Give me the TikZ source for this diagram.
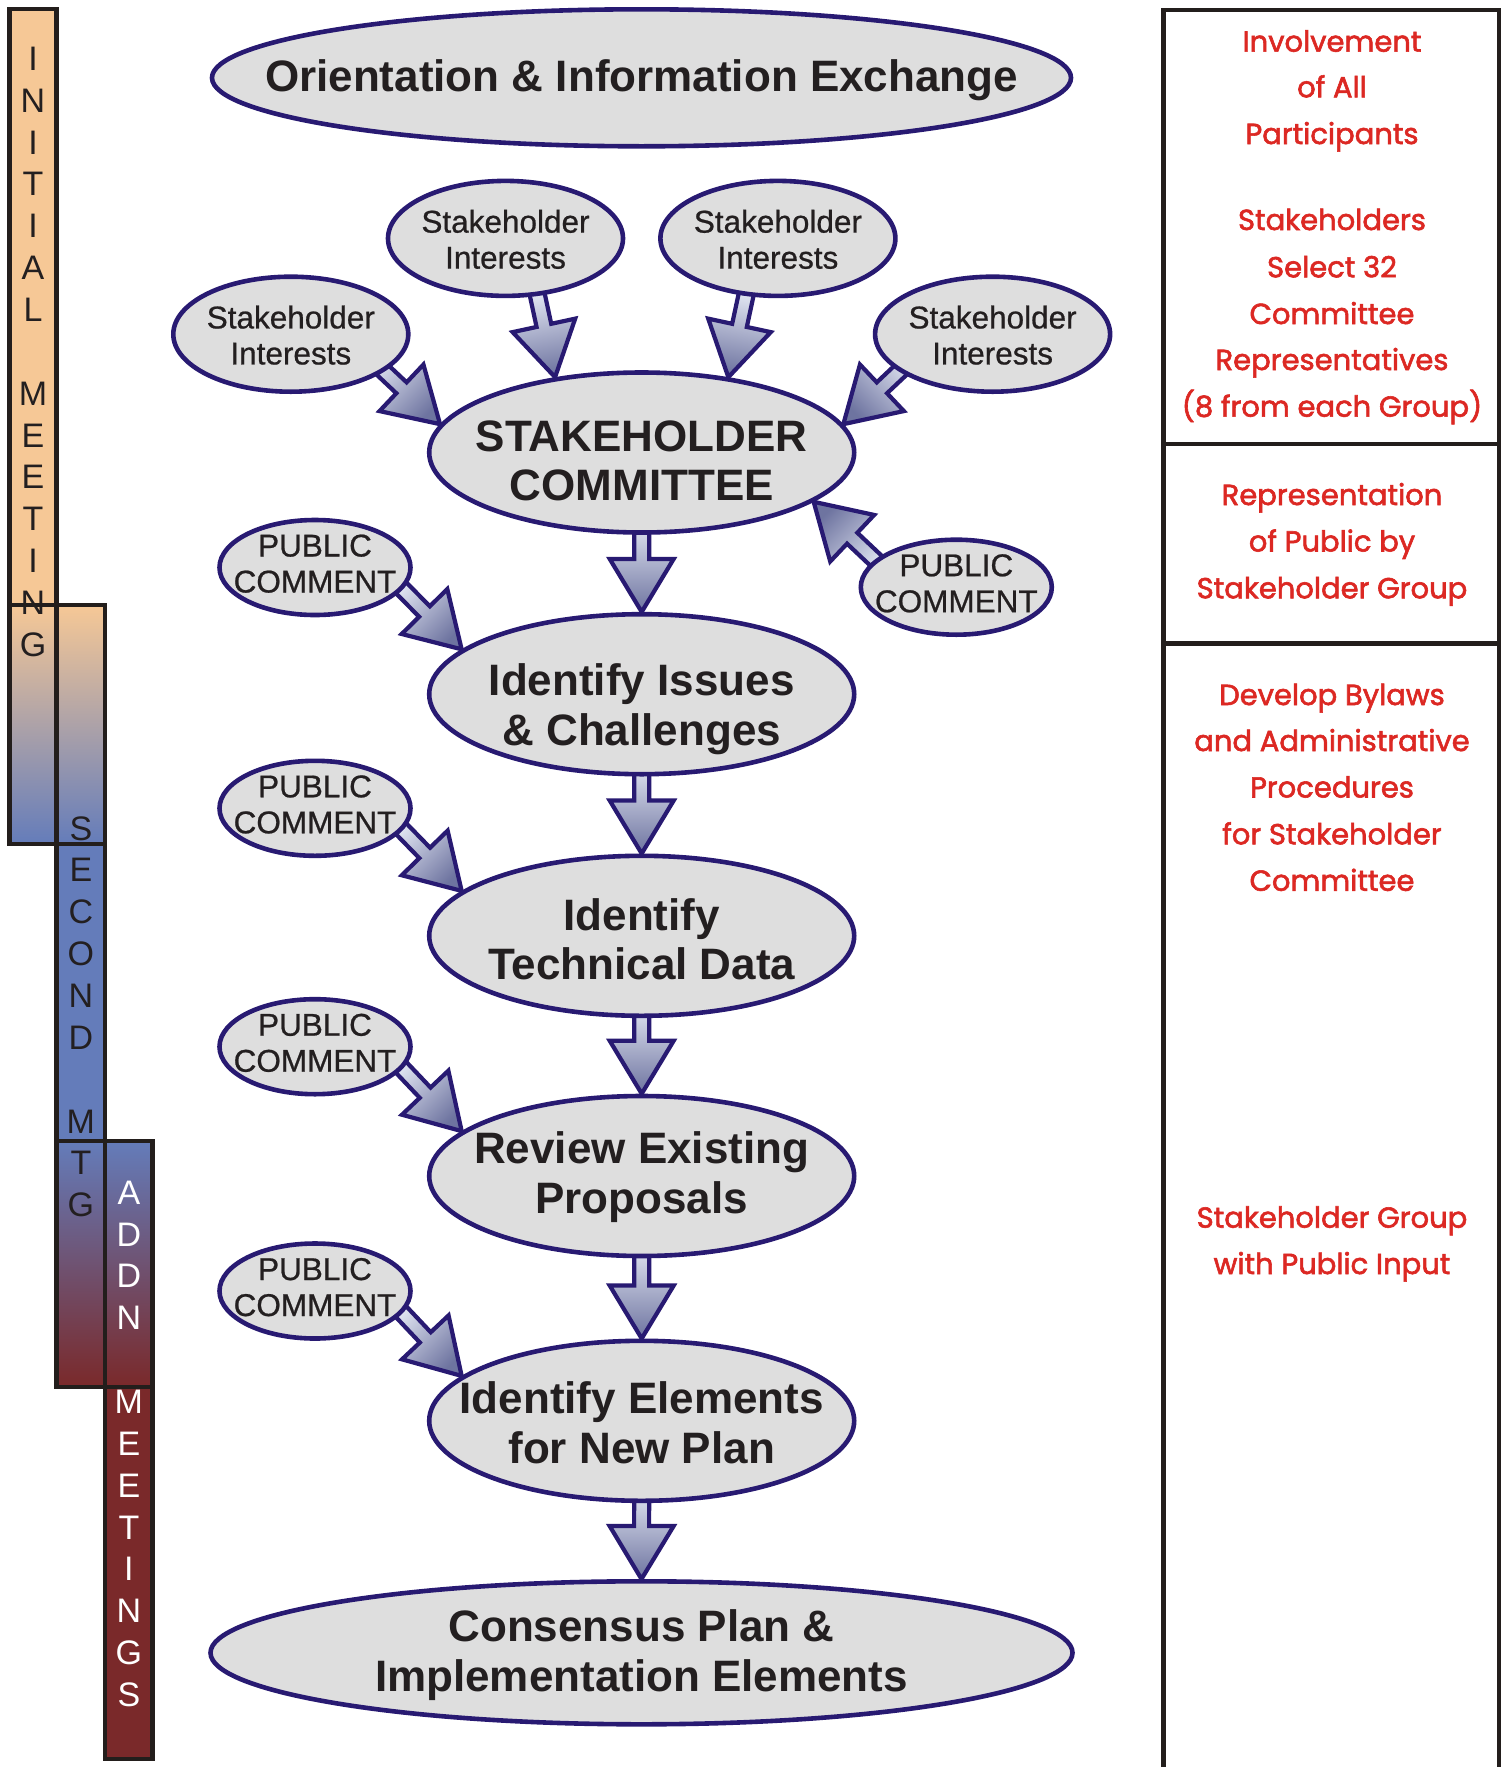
\documentclass[tikz,border=0pt]{standalone}
\usepackage{fontspec}
\setmainfont{Liberation Sans}
\newfontfamily\redfont[FakeBold=2]{Poppins}
\newfontfamily\medfont[FakeBold=0.7]{Liberation Sans}
\usetikzlibrary{shapes.geometric,calc}
\definecolor{navy}{RGB}{40,26,114}
\definecolor{ellfill}{RGB}{222,222,222}
\definecolor{arlight}{RGB}{234,238,248}
\definecolor{ardark}{RGB}{110,116,160}
\definecolor{barorange}{RGB}{246,200,150}
\definecolor{barblue}{RGB}{100,124,186}
\definecolor{barred}{RGB}{122,41,42}
\definecolor{barline}{RGB}{35,30,28}
\definecolor{redtxt}{RGB}{220,40,35}
\definecolor{txtblack}{RGB}{35,31,32}
\pgfdeclarelayer{bg}
\pgfsetlayers{bg,main}
% fat block arrow: #1 start, #2 tip, #3 shading angle
\newcommand\fatarr[3]{%
  \path (#1) coordinate (fa-s) (#2) coordinate (fa-t);
  \path ($(fa-t)!53pt!(fa-s)$) coordinate (fa-b);
  \draw[arrowsty, shading angle=#3]
    ($(fa-s)!7.5pt!90:(fa-t)$) -- ($(fa-b)!7.5pt!-90:(fa-s)$) -- ($(fa-b)!32pt!-90:(fa-s)$)
    -- (fa-t) -- ($(fa-b)!32pt!90:(fa-s)$) -- ($(fa-b)!7.5pt!90:(fa-s)$)
    -- ($(fa-s)!7.5pt!-90:(fa-t)$) -- cycle;}
\begin{document}
\begin{tikzpicture}[x=1pt,y=-1pt,
  bigell/.style={ellipse, draw=navy, line width=4.6pt, fill=ellfill, minimum width=425pt, minimum height=160pt, inner sep=0pt},
  wideell/.style={bigell, minimum width=859pt, minimum height=137pt},
  sell/.style={ellipse, draw=navy, line width=4.6pt, fill=ellfill, minimum width=235pt, minimum height=115pt, inner sep=0pt},
  pcell/.style={ellipse, draw=navy, line width=4.6pt, fill=ellfill, minimum width=191pt, minimum height=95pt, inner sep=0pt},
  bigtxt/.style={anchor=north, inner sep=0pt, align=center, text=txtblack, font={\fontsize{44}{49.6}\selectfont\bfseries}},
  smalltxt/.style={anchor=north, inner sep=0pt, align=center, text=txtblack, font={\medfont\fontsize{31.5}{36}\selectfont}},
  arrowsty/.style={draw=navy, line width=4.2pt, line join=miter, top color=arlight, bottom color=ardark},
  barframe/.style={draw=barline, line width=4.5pt},
  barlet/.style={inner sep=0pt, font={\fontsize{34}{34}\selectfont}},
  redline/.style={anchor=base, inner sep=0pt, text=redtxt, font={\redfont\fontsize{29}{30}\selectfont}}]
\useasboundingbox (0,0) rectangle (1507,1767);
\begin{pgfonlayer}{bg}
\fill[white] (0,0) rectangle (1507,1767);
\end{pgfonlayer}

% ---- left meeting bars ----
\fill[barorange] (9.3,9) rectangle (56.7,605);
\shade[top color=barorange, bottom color=barblue] (9.3,605) rectangle (105,844);
\fill[barblue] (56.7,844) rectangle (105,1141);
\shade[top color=barblue, bottom color=barred] (56.7,1141) rectangle (152.7,1387);
\fill[barred] (105,1387) rectangle (152.7,1759);
\foreach \l [count=\i from 0] in {I,N,I,T,I,A,L,,M,E,E,T,I,N,G}
  \node[barlet, text=txtblack] (ba\i) at (33,{58.6+41.86*\i}) {\l};
\foreach \l [count=\i from 0] in {S,E,C,O,N,D,,M,T,G}
  \node[barlet, text=txtblack] (bb\i) at (80.9,{828.4+41.86*\i}) {\l};
\foreach \l [count=\i from 0] in {A,D,D,N,,M,E,E,T,I,N,G,S}
  \node[barlet, text=white] (bc\i) at (128.9,{1192.5+41.86*\i}) {\l};
\draw[barframe] (9.3,9) rectangle (56.7,844);
\draw[barframe] (56.7,605) rectangle (105,1387);
\draw[barframe] (105,1141) rectangle (152.7,1759);
\draw[barframe] (9.3,605) -- (105,605);
\draw[barframe] (9.3,844) -- (105,844);
\draw[barframe] (56.7,1141) -- (152.7,1141);
\draw[barframe] (56.7,1387) -- (152.7,1387);

% ---- right panel ----
\draw[barframe] (1163.7,1790) -- (1163.7,10) -- (1499,10) -- (1499,1790);
\draw[barframe] (1163.7,444) -- (1499,444);
\draw[barframe] (1163.7,643.5) -- (1499,643.5);
\foreach \t/\y [count=\i] in {Involvement/51.7, of All/97.3, Participants/144,
  Stakeholders/230, Select 32/277.3, Committee/324, Representatives/370, (8 from each Group)/416.7,
  Representation/505, of Public by/551.5, Stakeholder Group/598.3,
  Develop Bylaws/705, and Administrative/751, Procedures/797.5, for Stakeholder/844.3, Committee/890.8,
  Stakeholder Group/1227.7, with Public Input/1274}
  \node[redline] (r\i) at (1332,\y) {\t};

% ---- flow nodes ----
\node[wideell] (OIE) at (641.5,77.8) {};
\node[bigtxt] (OIEt) at (641.5,59.8) {Orientation \& Information Exchange};
\node[sell] (SI1) at (505.5,238.4) {};
\node[sell] (SI2) at (777.9,238.4) {};
\node[sell] (SI3) at (290.8,334.2) {};
\node[sell] (SI4) at (992.6,334.2) {};
\foreach \n in {SI1,SI2,SI3,SI4}
  \node[smalltxt] (\n t) at ($(\n)+(0,-28.8)$) {Stakeholder\\Interests};
\node[bigell] (SC) at (641.7,452.5) {};
\node[bigtxt] (SCt) at (641.7,420.4) {STAKEHOLDER\\COMMITTEE};
\node[bigell] (ISS) at (641.7,694.2) {};
\node[bigtxt] (ISSt) at (641.7,663.9) {Identify Issues\\\& Challenges};
\node[bigell] (TEC) at (641.7,935.8) {};
\node[bigtxt] (TECt) at (641.7,898.3) {Identify\\Technical Data};
\node[bigell] (REV) at (641.7,1176) {};
\node[bigtxt] (REVt) at (641.7,1131.6) {Review Existing\\Proposals};
\node[bigell] (ELE) at (641.7,1420.8) {};
\node[bigtxt] (ELEt) at (641.7,1381.8) {Identify Elements\\for New Plan};
\node[wideell, minimum width=862pt, minimum height=143pt] (CON) at (641.5,1652.8) {};
\node[bigtxt] (CONt) at (641.5,1609.5) {Consensus Plan \&\\Implementation Elements};
\node[pcell] (PC1) at (315,567.5) {};
\node[pcell] (PC2) at (315,808.3) {};
\node[pcell] (PC3) at (315,1046.7) {};
\node[pcell] (PC4) at (315,1291) {};
\node[pcell] (PCR) at (956.3,587.2) {};
\foreach \n in {PC1,PC2,PC3,PC4,PCR}
  \node[smalltxt] (\n t) at ($(\n)+(0,-33.2)$) {PUBLIC\\COMMENT};

% ---- arrows (behind the ellipses) ----
\begin{pgfonlayer}{bg}
\fatarr{$(SI3)+(74,19)$}{SC.172}{45}
\fatarr{$(SI1)+(30,48)$}{SC.139}{10}
\fatarr{$(SI2)+(-30,48)$}{SC.41}{-10}
\fatarr{$(SI4)+(-74,19)$}{SC.8}{-45}
\fatarr{$(PCR)+(-66,-13)$}{SC.-16}{225}
\fatarr{$(PC1)+(76,10)$}{ISS.166}{45}
\fatarr{$(PC2)+(76,10)$}{TEC.166}{45}
\fatarr{$(PC3)+(76,10)$}{REV.166}{45}
\fatarr{$(PC4)+(76,10)$}{ELE.166}{45}
\fatarr{$(SC.south)+(0,-20)$}{ISS.north}{0}
\fatarr{$(ISS.south)+(0,-20)$}{TEC.north}{0}
\fatarr{$(TEC.south)+(0,-20)$}{REV.north}{0}
\fatarr{$(REV.south)+(0,-20)$}{ELE.north}{0}
\fatarr{$(ELE.south)+(0,-20)$}{CON.north}{0}
\end{pgfonlayer}
\end{tikzpicture}
\end{document}
